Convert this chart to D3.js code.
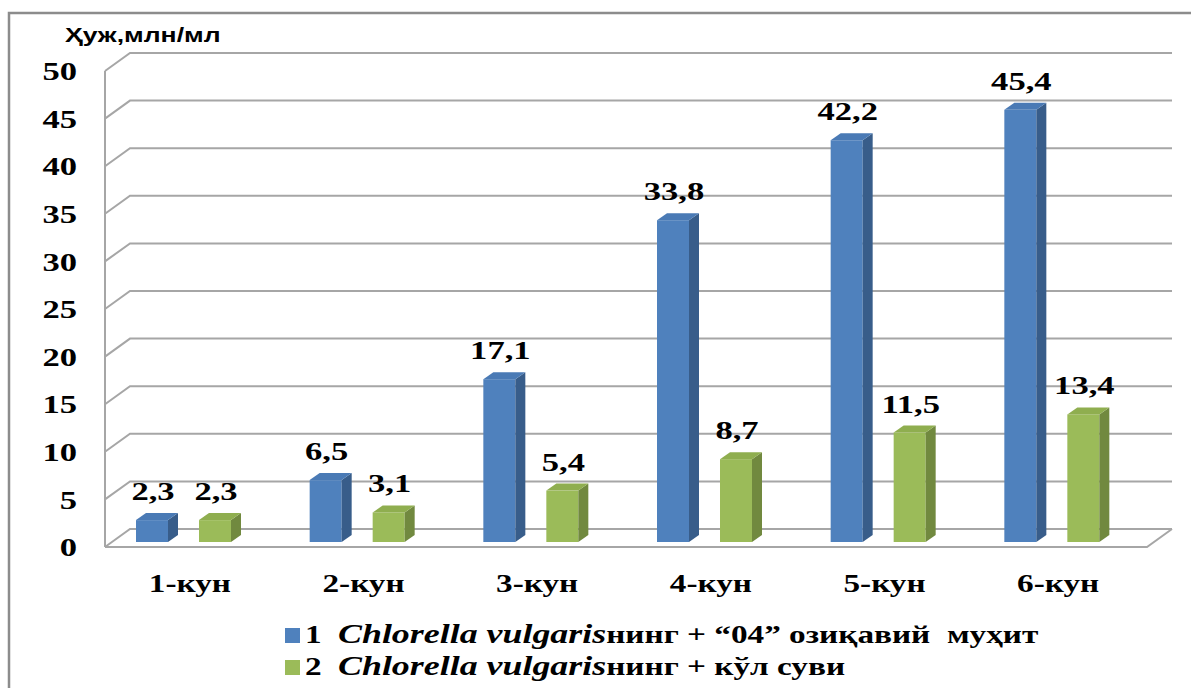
<!DOCTYPE html>
<html>
<head>
<meta charset="utf-8">
<script src="https://cdn.jsdelivr.net/npm/d3@7"></script>
<style>
  html, body { margin: 0; padding: 0; background: #fff; overflow: hidden; }
  svg { display: block; }
  .serif { font-family: "Liberation Serif", "Times New Roman", serif; font-weight: bold; }
</style>
</head>
<body>
<div id="chart"></div>
<script>
const days = ["1-кун", "2-кун", "3-кун", "4-кун", "5-кун", "6-кун"];
const mediumValues = [2.3, 6.5, 17.1, 33.8, 42.2, 45.4];
const lakeValues = [2.3, 3.1, 5.4, 8.7, 11.5, 13.4];
const yTicks = [0, 5, 10, 15, 20, 25, 30, 35, 40, 45, 50];
const yTitle = "Ҳуж,млн/мл";
const legendItems = [
    { num: "1", italic: "Chlorella vulgaris", rest: "нинг + “04” озиқавий  муҳит" },
    { num: "2", italic: "Chlorella vulgaris", rest: "нинг + кўл суви" }
];

const width = 1191, height = 688;
const gridColor = "#a6a6a6";
const faces = [
    { front: "#4f81bd", side: "#385d8a", top: "#4a7ab5" },
    { front: "#9bbb59", side: "#71893f", top: "#8fae4f" }
];
const wallDx = 25, wallDy = -18;   // depth of the 3D box
const barDx = 10, barDy = -7;      // depth of each bar
const sx = 1.33;                   // the original picture is stretched sideways

const svg = d3.select("#chart")
    .append("svg")
    .attr("width", width)
    .attr("height", height);

// stretched text helper
function stretched(sel, x, y) {
    return sel.attr("x", 0).attr("y", 0)
        .attr("transform", (d, i) => `translate(${typeof x === "function" ? x(d, i) : x},${typeof y === "function" ? y(d, i) : y}) scale(${sx},1)`);
}

// outer frame (runs off the right / bottom edge)
svg.append("rect")
    .attr("x", 9).attr("y", 13)
    .attr("width", 1200).attr("height", 700)
    .attr("fill", "none")
    .attr("stroke", "#8c8c8c")
    .attr("stroke-width", 2.5);

// scales
const x = d3.scaleBand().domain(days).range([105, 1147]);
const xSeries = d3.scaleBand().domain([0, 1]).range([31, 126]).paddingInner(0.492);
const yFront = d3.scaleLinear().domain([0, 50]).range([547, 71]);
const yBar = d3.scaleLinear().domain([0, 50]).range([542, 66]);

const x0 = x.range()[0], x1 = x.range()[1];

// gridlines: side wall diagonal + back wall line
const grid = svg.append("g").attr("fill", "none").attr("stroke", gridColor).attr("stroke-width", 2);
yTicks.forEach(t => {
    const yf = yFront(t);
    grid.append("polyline")
        .attr("points", `${x0},${yf} ${x0 + wallDx},${yf + wallDy} ${x1 + wallDx},${yf + wallDy}`);
});
// left wall front edge
grid.append("line")
    .attr("x1", x0).attr("y1", yFront(0))
    .attr("x2", x0).attr("y2", yFront(50));
// floor front edge + right side
grid.append("polyline")
    .attr("points", `${x0},${yFront(0)} ${x1},${yFront(0)} ${x1 + wallDx},${yFront(0) + wallDy}`);

// y tick labels
svg.append("g")
    .selectAll("text")
    .data(yTicks)
    .enter()
    .append("text")
    .attr("class", "serif")
    .call(stretched, 77, d => yFront(d))
    .attr("dy", "0.35em")
    .attr("text-anchor", "end")
    .style("font-size", "26px")
    .attr("fill", "#000")
    .text(d => d);

// y title
svg.append("text")
    .call(stretched, 65, 42)
    .style("font-family", "'Liberation Sans', Arial, sans-serif")
    .style("font-weight", "bold")
    .style("font-size", "20px")
    .attr("fill", "#000")
    .text(yTitle);

// bars
const barData = [];
days.forEach((d, i) => {
    [mediumValues[i], lakeValues[i]].forEach((v, s) => {
        barData.push({ day: d, series: s, value: v });
    });
});

const bars = svg.append("g")
    .selectAll("g.bar")
    .data(barData)
    .enter()
    .append("g")
    .attr("class", "bar");

const bx = d => x(d.day) + xSeries(d.series);
const bw = xSeries.bandwidth();

bars.append("rect")
    .attr("x", bx)
    .attr("y", d => yBar(d.value))
    .attr("width", bw)
    .attr("height", d => yBar(0) - yBar(d.value))
    .attr("fill", d => faces[d.series].front);

bars.append("polygon")
    .attr("points", d => {
        const l = bx(d) + bw, t = yBar(d.value), b = yBar(0);
        return `${l},${t} ${l + barDx},${t + barDy} ${l + barDx},${b + barDy} ${l},${b}`;
    })
    .attr("fill", d => faces[d.series].side);

bars.append("polygon")
    .attr("points", d => {
        const l = bx(d), t = yBar(d.value);
        return `${l},${t} ${l + barDx},${t + barDy} ${l + bw + barDx},${t + barDy} ${l + bw},${t}`;
    })
    .attr("fill", d => faces[d.series].top);

// value labels
svg.append("g")
    .selectAll("text")
    .data(barData)
    .enter()
    .append("text")
    .attr("class", "serif")
    .call(stretched, d => bx(d) + bw / 2 + 1, d => yBar(d.value) - 20)
    .attr("text-anchor", "middle")
    .style("font-size", "26px")
    .attr("fill", "#000")
    .text(d => String(d.value).replace(".", ","));

// category labels
svg.append("g")
    .selectAll("text")
    .data(days)
    .enter()
    .append("text")
    .attr("class", "serif")
    .call(stretched, d => x(d) + x.bandwidth() / 2 - 2, 592)
    .attr("text-anchor", "middle")
    .style("font-size", "25px")
    .attr("fill", "#000")
    .text(d => d);

// legend
const legend = svg.append("g");
legendItems.forEach((item, i) => {
    const ly = 643 + i * 32;
    legend.append("rect")
        .attr("x", 285).attr("y", ly - 15)
        .attr("width", 15).attr("height", 15)
        .attr("fill", faces[i].front);
    const t = legend.append("text")
        .attr("class", "serif")
        .call(stretched, 305, ly)
        .style("font-size", "25px")
        .attr("fill", "#000")
        .style("white-space", "pre");
    t.append("tspan").text(item.num);
    t.append("tspan").attr("x", (338 - 305) / sx)
        .style("font-style", "italic")
        .style("font-size", "27px")
        .text(item.italic);
    t.append("tspan").text(item.rest);
});
</script>
</body>
</html>
